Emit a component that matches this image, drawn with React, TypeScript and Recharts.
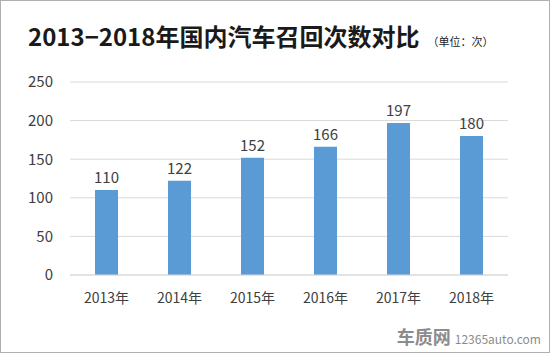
import { BarChart, Bar, XAxis, YAxis, CartesianGrid, LabelList } from 'recharts';

const years = ['2013年', '2014年', '2015年', '2016年', '2017年', '2018年'];
const recalls = [110, 122, 152, 166, 197, 180];
const yTicks = [0, 50, 100, 150, 200, 250];

const data = years.map((year, i) => ({ year, recalls: recalls[i] }));

const font = '"Microsoft YaHei", "Noto Sans CJK SC", "Noto Sans", sans-serif';

export default function App() {
  return (
    <div
      style={{
        position: 'fixed',
        left: 0,
        top: 0,
        width: 550,
        height: 353,
        background: '#fff',
        boxSizing: 'border-box',
        border: '1px solid #b0b0b0',
        fontFamily: font,
      }}
    >
      <div style={{ position: 'absolute', left: 27, top: 17, whiteSpace: 'nowrap', color: '#1a1a1a' }}>
        <span style={{ fontSize: 24, fontWeight: 700 }}>2013−2018年国内汽车召回次数对比</span>
        <span style={{ fontSize: 11, marginLeft: 8, color: '#222' }}>（单位：次）</span>
      </div>
      <div style={{ position: 'absolute', left: 0, top: 0 }}>
        <BarChart
          width={550}
          height={353}
          data={data}
          margin={{ top: 81, right: 43, bottom: 49, left: 9 }}
        >
          <CartesianGrid vertical={false} stroke="#d9d9d9" />
          <XAxis
            dataKey="year"
            height={30}
            axisLine={{ stroke: '#d9d9d9' }}
            tickLine={false}
            tick={{ fill: '#404040', fontSize: 14, fontFamily: font }}
            tickMargin={12}
          />
          <YAxis
            width={60}
            domain={[0, 250]}
            ticks={yTicks}
            axisLine={false}
            tickLine={false}
            tick={{ fill: '#404040', fontSize: 15, fontFamily: font }}
            tickMargin={11}
          />
          <Bar dataKey="recalls" fill="#5b9bd5" barSize={23} isAnimationActive={false}>
            <LabelList
              dataKey="recalls"
              position="top"
              offset={7}
              style={{ fill: '#404040', fontSize: 15, fontFamily: font }}
            />
          </Bar>
        </BarChart>
      </div>
      <div
        style={{
          position: 'absolute',
          right: 8,
          bottom: 3,
          whiteSpace: 'nowrap',
          color: '#8c8c8c',
        }}
      >
        <span style={{ fontSize: 18, fontWeight: 700 }}>车质网</span>
        <span style={{ fontSize: 12, marginLeft: 4 }}>12365auto.com</span>
      </div>
    </div>
  );
}
